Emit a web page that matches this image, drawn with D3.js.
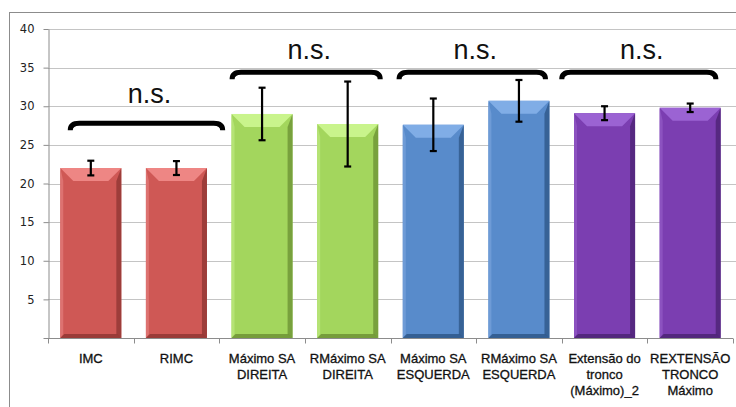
<!DOCTYPE html>
<html>
<head>
<meta charset="utf-8">
<script src="https://cdn.jsdelivr.net/npm/d3@7"></script>
<style>
  body { margin: 0; background: #fff; }
  svg { display: block; }
</style>
</head>
<body>
<svg></svg>
<script>
const categories = [
  "IMC",
  "RIMC",
  "Máximo SA\nDIREITA",
  "RMáximo SA\nDIREITA",
  "Máximo SA\nESQUERDA",
  "RMáximo SA\nESQUERDA",
  "Extensão do\ntronco\n(Máximo)_2",
  "REXTENSÃO\nTRONCO\nMáximo"
];
const values = [22.0, 22.0, 29.0, 27.7, 27.6, 30.7, 29.1, 29.8];
const errors = [0.95, 0.9, 3.4, 5.5, 3.4, 2.7, 0.9, 0.55];
const groups = [0, 0, 1, 1, 2, 2, 3, 3];
const yTicks = [0, 5, 10, 15, 20, 25, 30, 35, 40];

// significance brackets, x in category units, y in data units
const bracketFrom = [0.26, 2.15, 4.1, 6.0];
const bracketTo = [2.04, 3.88, 5.81, 7.8];
const bracketY = [27.8, 34.4, 34.4, 34.4];
const bracketLabelY = [30.4, 36.1, 36.1, 36.1];
const bracketLabels = ["n.s.", "n.s.", "n.s.", "n.s."];

const sizes = {
  width: 736,
  height: 407,
  plot: { left: 48, right: 733, top: 29, bottom: 338 }
};

// front, top bevel, left edge, right edge / bottom
const palette = [
  { front: "#cf5855", top: "#ee8684", light: "#dd7270", dark: "#8c3431" },
  { front: "#a3d65d", top: "#c9f48c", light: "#b5e375", dark: "#6a8f33" },
  { front: "#588bcb", top: "#80ade6", light: "#6e9bd6", dark: "#2c5484" },
  { front: "#7b3eb1", top: "#9b63d3", light: "#8c52c0", dark: "#4a2271" }
];

const svg = d3.select("svg")
  .attr("width", sizes.width)
  .attr("height", sizes.height);

const x = d3.scaleBand()
  .domain(categories)
  .range([sizes.plot.left, sizes.plot.right])
  .paddingInner(0.287)
  .paddingOuter(0.1435);

const xu = d3.scaleLinear()
  .domain([0, categories.length])
  .range([sizes.plot.left, sizes.plot.right]);

const y = d3.scaleLinear()
  .domain([0, 40])
  .range([sizes.plot.bottom, sizes.plot.top]);

// outer border
svg.append("rect")
  .attr("x", 9.5)
  .attr("y", 12.5)
  .attr("width", 740)
  .attr("height", 420)
  .attr("fill", "none")
  .attr("stroke", "#8c8c8c");

// gridlines
svg.append("g")
  .selectAll("line")
  .data(yTicks.filter(d => d > 0))
  .join("line")
  .attr("x1", sizes.plot.left)
  .attr("x2", sizes.width)
  .attr("y1", d => Math.round(y(d)) + 0.5)
  .attr("y2", d => Math.round(y(d)) + 0.5)
  .attr("stroke", "#c4c4c4");

// y axis
const yAxis = svg.append("g")
  .attr("transform", `translate(${sizes.plot.left + 0.5},0)`)
  .call(d3.axisLeft(y).tickValues(yTicks).tickSize(5).tickSizeOuter(0)
    .tickFormat(d => d === 0 ? "" : d));
yAxis.select(".domain").attr("stroke", "#8c8c8c");
yAxis.selectAll(".tick line").attr("stroke", "#8c8c8c");
yAxis.selectAll(".tick text")
  .attr("x", -14)
  .attr("fill", "#222")
  .style("font-family", "'DejaVu Sans', sans-serif")
  .style("font-size", "11.5px");

// x axis
const xAxisG = svg.append("g")
  .attr("transform", `translate(0,${sizes.plot.bottom + 0.5})`);
xAxisG.append("line")
  .attr("x1", sizes.plot.left)
  .attr("x2", sizes.plot.right)
  .attr("stroke", "#8c8c8c");
xAxisG.selectAll("line.tick")
  .data(d3.range(categories.length + 1))
  .join("line")
  .attr("class", "tick")
  .attr("x1", d => Math.round(xu(d)) + 0.5)
  .attr("x2", d => Math.round(xu(d)) + 0.5)
  .attr("y1", 0)
  .attr("y2", 5)
  .attr("stroke", "#8c8c8c");

const labels = svg.append("g")
  .selectAll("text")
  .data(categories)
  .join("text")
  .attr("text-anchor", "middle")
  .attr("fill", "#111")
  .attr("stroke", "#111")
  .attr("stroke-width", 0.3)
  .style("font-family", "'Liberation Sans', Arial, sans-serif")
  .style("font-size", "13px");
labels.selectAll("tspan")
  .data(d => d.split("\n").map(t => ({ t, c: d })))
  .join("tspan")
  .attr("x", d => x(d.c) + x.bandwidth() / 2)
  .attr("y", (d, i) => 363 + i * 16)
  .text(d => d.t);

// bars with bevel
const bars = svg.append("g")
  .selectAll("g")
  .data(categories.map((c, i) => ({ c, v: values[i], e: errors[i], g: groups[i] })))
  .join("g");

function poly(pts) {
  return "M" + pts.map(p => p.join(",")).join("L") + "Z";
}

bars.each(function(d) {
  const g = d3.select(this);
  const col = palette[d.g];
  const x0 = x(d.c);
  const w = x.bandwidth();
  const x1 = x0 + w;
  const t = y(d.v);
  const b = y(0);
  const bev = 13;
  const side = 4;

  g.append("rect")
    .attr("x", x0).attr("y", t)
    .attr("width", w).attr("height", b - t)
    .attr("fill", col.front);
  // right side
  g.append("path")
    .attr("d", poly([[x1, t], [x1, b], [x1 - side - 1, b - side], [x1 - side - 1, t + bev]]))
    .attr("fill", col.dark)
    .attr("opacity", 0.75);
  // left side
  g.append("path")
    .attr("d", poly([[x0, t], [x0 + side - 1, t + bev], [x0 + side - 1, b - side], [x0, b]]))
    .attr("fill", col.light);
  // bottom
  g.append("path")
    .attr("d", poly([[x0, b], [x1, b], [x1 - side, b - side], [x0 + side, b - side]]))
    .attr("fill", col.dark)
    .attr("opacity", 0.8);
  // top bevel
  g.append("path")
    .attr("d", poly([[x0, t], [x1, t], [x1 - bev, t + bev], [x0 + bev, t + bev]]))
    .attr("fill", col.top);
});

// error bars
const err = svg.append("g")
  .selectAll("g")
  .data(categories.map((c, i) => ({ c, v: values[i], e: errors[i] })))
  .join("g")
  .attr("transform", d => `translate(${x(d.c) + x.bandwidth() / 2},0)`)
  .attr("stroke", "#000")
  .attr("stroke-width", 2.2);
err.append("line")
  .attr("y1", d => y(d.v + d.e))
  .attr("y2", d => y(d.v - d.e));
err.append("line")
  .attr("x1", -3.5).attr("x2", 3.5)
  .attr("y1", d => y(d.v + d.e))
  .attr("y2", d => y(d.v + d.e));
err.append("line")
  .attr("x1", -3.5).attr("x2", 3.5)
  .attr("y1", d => y(d.v - d.e))
  .attr("y2", d => y(d.v - d.e));

// brackets
const brackets = svg.append("g")
  .selectAll("g")
  .data(bracketLabels.map((l, i) => ({
    l, from: bracketFrom[i], to: bracketTo[i], y: bracketY[i], ly: bracketLabelY[i]
  })))
  .join("g");
brackets.append("path")
  .attr("d", d => {
    const a = xu(d.from), c = xu(d.to), yy = y(d.y);
    return `M${a},${yy + 7} Q${a},${yy} ${a + 9},${yy} L${c - 9},${yy} Q${c},${yy} ${c},${yy + 7}`;
  })
  .attr("fill", "none")
  .attr("stroke", "#000")
  .attr("stroke-width", 5);
brackets.append("text")
  .attr("x", d => (xu(d.from) + xu(d.to)) / 2 + 3)
  .attr("y", d => y(d.ly))
  .attr("text-anchor", "middle")
  .attr("fill", "#111")
  .style("font-family", "'Liberation Sans Narrow', 'Liberation Sans', sans-serif")
  .style("font-size", "27px")
  .text(d => d.l);
</script>
</body>
</html>
